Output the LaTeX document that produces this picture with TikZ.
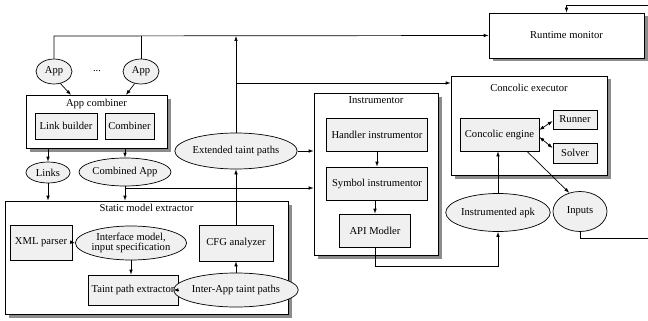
\documentclass[tikz,border=0pt]{standalone}
\usepackage{fontspec}
\setmainfont{Liberation Serif}
\newfontfamily\diafont{Liberation Serif}
\usetikzlibrary{arrows.meta,shapes.geometric,shadows}
\begin{document}
\begin{tikzpicture}[x=1pt,y=-1pt,
  font=\diafont\fontsize{10.6}{12}\selectfont,
  line width=0.7pt,
  arr/.style={-{Latex[length=5pt,width=3.6pt]}},
  dbl/.style={{Latex[length=5pt,width=3.6pt]}-{Latex[length=5pt,width=3.6pt]}},
  shad/.style={drop shadow={shadow xshift=3.5pt,shadow yshift=-3.5pt,fill=black!45,opacity=1}},
  outerbox/.style={draw,fill=white,shad,inner sep=0pt},
  innerbox/.style={draw,fill=black!6,inner sep=0pt,align=center},
  ell/.style={ellipse,draw,fill=black!6,inner sep=0pt,align=center},
  ttl/.style={inner sep=0pt},
]
\useasboundingbox (0,0) rectangle (648,321);

% outer boxes
\node[outerbox,minimum width=141pt,minimum height=53pt] (combiner) at (96.5,121.5) {};
\node[ttl] (combinerT) at (96.5,104) {App combiner};
\node[outerbox,minimum width=283pt,minimum height=113pt] (static) at (146.5,257.5) {};
\node[ttl] (staticT) at (146.5,208) {Static model extractor};
\node[outerbox,minimum width=124pt,minimum height=162pt] (instr) at (376,174) {};
\node[ttl] (instrT) at (376,100) {Instrumentor};
\node[outerbox,minimum width=156pt,minimum height=99pt] (conc) at (529,125.5) {};
\node[ttl] (concT) at (529,88) {Concolic executor};
\node[outerbox,minimum width=155pt,minimum height=45pt] (runtime) at (566.5,35.5) {Runtime monitor};

% apps
\node[ell,minimum width=36pt,minimum height=25pt] (appA) at (54,71.5) {App};
\node[ell,minimum width=36pt,minimum height=25pt] (appB) at (141,71.5) {App};
\node[inner sep=0pt] (dots) at (97,71) {...};

% app combiner contents
\node[innerbox,minimum width=62pt,minimum height=26pt] (linkb) at (66,126) {Link builder};
\node[innerbox,minimum width=49pt,minimum height=26pt] (comb) at (129.5,126) {Combiner};

\node[ell,minimum width=44pt,minimum height=21pt] (links) at (48,172.5) {Links};
\node[ell,minimum width=92pt,minimum height=28pt] (combapp) at (125,172) {Combined App};

% static model extractor contents
\node[innerbox,minimum width=62pt,minimum height=35pt] (xml) at (41,242.5) {XML parser};
\node[ell,minimum width=92pt,minimum height=34pt] (iface) at (131,243) {Interface model,\\[-2pt]input specification};
\node[innerbox,minimum width=90pt,minimum height=30pt] (taint) at (133,290) {Taint path extractor};
\node[ell,minimum width=98pt,minimum height=34pt] (inter) at (236,290) {Inter-App taint paths};
\node[innerbox,minimum width=74pt,minimum height=36pt] (cfg) at (236,243) {CFG analyzer};
\node[ell,minimum width=98pt,minimum height=36pt] (ext) at (236,151) {Extended taint paths};

% instrumentor contents
\node[innerbox,minimum width=101pt,minimum height=33pt] (handler) at (377,134.5) {Handler instrumentor};
\node[innerbox,minimum width=101pt,minimum height=33pt] (symbol) at (377,183.5) {Symbol instrumentor};
\node[innerbox,minimum width=71pt,minimum height=33pt] (api) at (375,230.5) {API Modler};

% concolic contents
\node[innerbox,minimum width=79pt,minimum height=33pt] (engine) at (499.5,134.5) {Concolic engine};
\node[innerbox,minimum width=44pt,minimum height=19pt] (runner) at (575,119.5) {Runner};
\node[innerbox,minimum width=44pt,minimum height=20pt] (solver) at (575,153) {Solver};
\node[ell,minimum width=90pt,minimum height=38pt] (iapk) at (498,212.5) {Instrumented apk};
\node[ell,minimum width=54pt,minimum height=40pt] (inputs) at (580,211.5) {Inputs};

% helper coordinates
\coordinate (tl) at (54,36);
\coordinate (ca) at (71,95);
\coordinate (cb) at (126,95);
\coordinate (br) at (125,188);
\coordinate (eb) at (236,83);
\coordinate (ab) at (375,266);
\coordinate (ie) at (648,238);
\coordinate (te) at (648,5);

% connectors
\draw[arr] (appA.north) -- (tl) -- (runtime.west);
\draw (appB.north) -- (appB.north |- tl);
\draw[arr] (appA.-62) -- (ca);
\draw[arr] (appB.-118) -- (cb);
\draw[arr] (links.north |- combiner.south) -- (links.north);
\draw[arr] (combapp.north |- combiner.south) -- (combapp.north);
\draw[arr] (links.south) -- (links.south |- static.north);
\draw[arr] (combapp.south) -- (combapp.south |- static.north);
\draw[arr] (br) -- (br -| instr.west);
\draw[arr] (xml.east) -- (iface.west);
\draw[arr] (iface.south) -- (iface.south |- taint.north);
\draw[arr] (taint.east) -- (inter.west);
\draw[arr] (inter.north) -- (cfg.south);
\draw[arr] (cfg.north) -- (ext.south);
\draw[arr] (ext.north) -- (ext.north |- tl);
\draw[arr] (eb) -- (eb -| conc.west);
\draw[arr] (ext.east) -- (ext.east -| instr.west);
\draw[arr] (handler.south) -- (handler.south |- symbol.north);
\draw[arr] (symbol.south -| api.north) -- (api.north);
\draw[arr] (api.south) -- (ab) -| (iapk.south);
\draw[arr] (iapk.north) -- (iapk.north |- engine.south);
\draw[dbl] ([yshift=4.5pt]engine.east) -- ([yshift=-1.5pt]runner.west);
\draw[dbl] ([yshift=-2.5pt]engine.east) -- ([yshift=5pt]solver.west);
\draw[arr] ([xshift=27.5pt]engine.south) -- (inputs.120);
\draw (inputs.south) |- (ie);
\draw[arr] (te) -| (runtime.north);
\end{tikzpicture}
\end{document}
